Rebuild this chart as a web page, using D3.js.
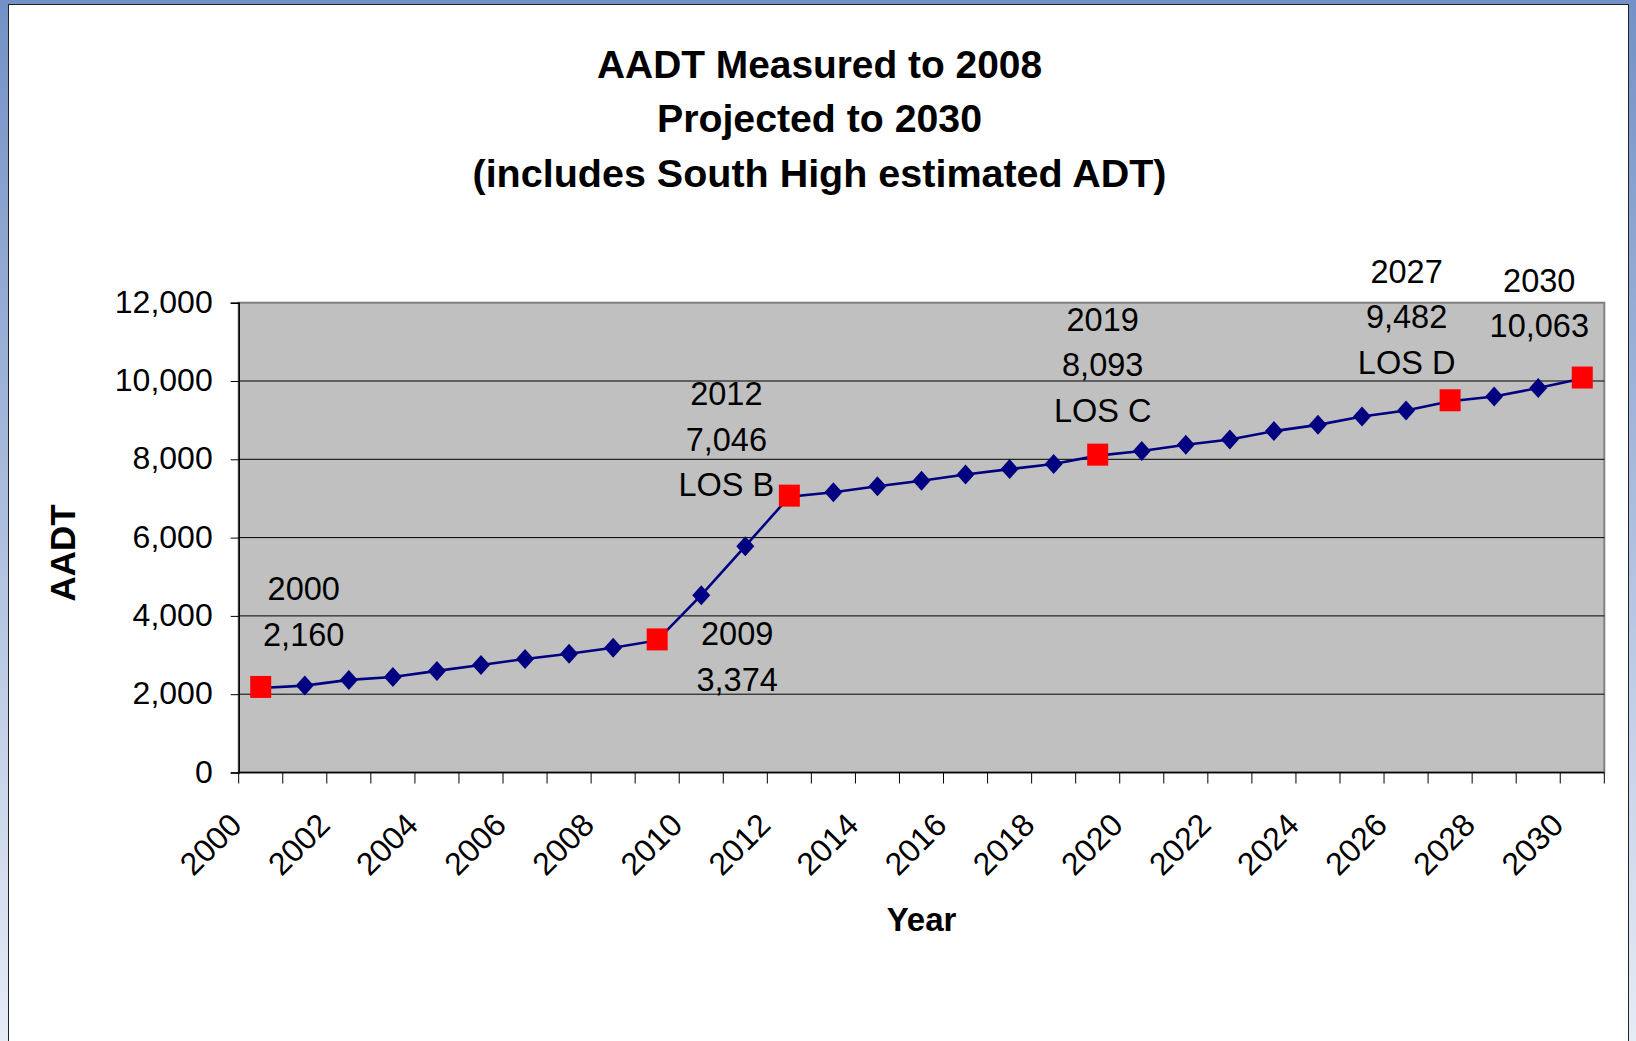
<!DOCTYPE html>
<html><head><meta charset="utf-8">
<script src="https://cdn.jsdelivr.net/npm/d3@7"></script>
<style>html,body{margin:0;padding:0;overflow:hidden;background:#fff}</style>
</head><body>
<svg id="chart" width="1636" height="1041"></svg>
<script>
// ---------------- DATA ----------------
const titleLines = ["AADT Measured to 2008", "Projected to 2030", "(includes South High estimated ADT)"];
const xAxisTitle = "Year";
const yAxisTitle = "AADT";
const years = [2000,2001,2002,2003,2004,2005,2006,2007,2008,2009,2010,2011,2012,2013,2014,2015,
               2016,2017,2018,2019,2020,2021,2022,2023,2024,2025,2026,2027,2028,2029,2030];
const aadt  = [2160,2220,2365,2440,2595,2745,2900,3035,3185,3374,4530,5780,7046,7160,7310,7450,
               7610,7750,7880,8093,8210,8370,8505,8720,8880,9095,9245,9482,9605,9820,10063];
const highlightYears = [2000, 2009, 2012, 2019, 2027, 2030];
const losLabels = {2012: "LOS B", 2019: "LOS C", 2027: "LOS D"};
const xTickLabels = [2000,2002,2004,2006,2008,2010,2012,2014,2016,2018,2020,2022,2024,2026,2028,2030];
const yTicks = [0, 2000, 4000, 6000, 8000, 10000, 12000];

// ---------------- LAYOUT ----------------
const W = 1636, H = 1041;
const plot = {left: 238.7, right: 1604.3, top: 302.7, bottom: 772.5};
const titleLayout = {cx: 819.5, baselines: [78, 132, 187], widths: [445, 325, 694], size: 38};
const labelLayout = {
  2000: {dx: 43,  dy: -87.5},
  2009: {dx: 80,  dy: 4.6},
  2012: {dx: -63, dy: -91.6},
  2019: {dx: 5,   dy: -125},
  2027: {dx: -43.5, dy: -118.3},
  2030: {dx: -43, dy: -87}
};
const labelLineGap = 45.5;
const FONT = "'Liberation Sans', Arial, Helvetica, sans-serif";

const svg = d3.select("#chart");

// background gradient frame
const defs = svg.append("defs");
const grad = defs.append("linearGradient").attr("id","bg").attr("x1",0).attr("y1",0).attr("x2",0).attr("y2",1);
grad.append("stop").attr("offset","0%").attr("stop-color","#7391c6");
grad.append("stop").attr("offset","100%").attr("stop-color","#e6ecf6");
svg.append("rect").attr("width",W).attr("height",H).attr("fill","url(#bg)");
svg.append("rect").attr("x",8.5).attr("y",4.5).attr("width",1620).attr("height",H+10)
  .attr("fill","#fff").attr("stroke","#222").attr("stroke-width",1);

// scales
const x = d3.scaleBand().domain(years).range([plot.left, plot.right]).padding(0);
const y = d3.scaleLinear().domain([0, 12000]).range([plot.bottom, plot.top]);
const cx = yr => x(yr) + x.bandwidth()/2;

// plot area
svg.append("rect").attr("x",plot.left).attr("y",plot.top)
  .attr("width",plot.right-plot.left).attr("height",plot.bottom-plot.top)
  .attr("fill","#c0c0c0").attr("stroke","#808080").attr("stroke-width",2);

// gridlines
svg.append("g").selectAll("line").data(yTicks.filter(t => t > 0 && t < 12000)).join("line")
  .attr("x1",plot.left).attr("x2",plot.right)
  .attr("y1",d=>y(d)).attr("y2",d=>y(d))
  .attr("stroke","#000").attr("stroke-width",1);

// y axis
const yAxis = d3.axisLeft(y).tickValues(yTicks).tickSize(8).tickPadding(18).tickFormat(d3.format(","));
const gy = svg.append("g").attr("transform",`translate(${plot.left},0)`).call(yAxis);
gy.select(".domain").attr("stroke","#000").attr("stroke-width",1.5);
gy.selectAll(".tick line").attr("stroke","#000");
gy.selectAll(".tick text").attr("font-family",FONT).attr("font-size",32).attr("fill","#000")
  .attr("dy","0.3em");

// x axis: ticks at every category boundary
const boundaries = years.map(yr => x(yr)).concat([plot.right]);
svg.append("line").attr("x1",plot.left).attr("x2",plot.right).attr("y1",plot.bottom).attr("y2",plot.bottom)
  .attr("stroke","#000").attr("stroke-width",1.5);
svg.append("g").selectAll("line").data(boundaries).join("line")
  .attr("x1",d=>d).attr("x2",d=>d).attr("y1",plot.bottom).attr("y2",plot.bottom+11)
  .attr("stroke","#000").attr("stroke-width",1);
svg.append("g").selectAll("text").data(xTickLabels).join("text")
  .attr("transform",d=>`translate(${x(d)+5},827) rotate(-45)`)
  .attr("text-anchor","end").attr("font-family",FONT).attr("font-size",32).attr("fill","#000")
  .text(d=>d);

// line
const pts = years.map((yr,i)=>({year:yr, value:aadt[i]}));
svg.append("path").datum(pts)
  .attr("d", d3.line().x(d=>cx(d.year)).y(d=>y(d.value)))
  .attr("fill","none").attr("stroke","#000080").attr("stroke-width",2.6);

// diamond markers
const dW = 9, dH = 10;
svg.append("g").selectAll("path").data(pts.filter(p=>!highlightYears.includes(p.year))).join("path")
  .attr("d", d=>{const px=cx(d.year), py=y(d.value);
    return `M${px},${py-dH}L${px+dW},${py}L${px},${py+dH}L${px-dW},${py}Z`;})
  .attr("fill","#000080");

// red square markers
svg.append("g").selectAll("rect").data(pts.filter(p=>highlightYears.includes(p.year))).join("rect")
  .attr("x",d=>cx(d.year)-10.5).attr("y",d=>y(d.value)-12)
  .attr("width",21).attr("height",22).attr("fill","#ff0000");

// data labels
const fmt = d3.format(",");
const labelData = pts.filter(p=>highlightYears.includes(p.year)).map(p=>{
  const lines = [String(p.year), fmt(p.value)];
  if (losLabels[p.year]) lines.push(losLabels[p.year]);
  return {...p, lines};
});
const lg = svg.append("g").attr("font-family",FONT).attr("font-size",32.5).attr("fill","#000")
  .attr("text-anchor","middle");
labelData.forEach(d=>{
  const L = labelLayout[d.year];
  const t = lg.append("text");
  d.lines.forEach((ln,i)=>{
    t.append("tspan").attr("x",cx(d.year)+L.dx).attr("y",y(d.value)+L.dy+i*labelLineGap).text(ln);
  });
});

// title
svg.append("g").selectAll("text").data(titleLines).join("text")
  .attr("x",titleLayout.cx).attr("y",(d,i)=>titleLayout.baselines[i])
  .attr("text-anchor","middle").attr("font-family",FONT).attr("font-weight","bold")
  .attr("font-size",titleLayout.size).attr("fill","#000")
  .attr("textLength",(d,i)=>titleLayout.widths[i]).attr("lengthAdjust","spacingAndGlyphs")
  .text(d=>d);

// axis titles
svg.append("text").attr("x",(plot.left+plot.right)/2).attr("y",931)
  .attr("text-anchor","middle").attr("font-family",FONT).attr("font-weight","bold")
  .attr("font-size",33).attr("fill","#000").text(xAxisTitle);
svg.append("text").attr("transform","translate(75,553) rotate(-90)")
  .attr("text-anchor","middle").attr("font-family",FONT).attr("font-weight","bold")
  .attr("font-size",35).attr("fill","#000").text(yAxisTitle);
</script>
</body></html>
